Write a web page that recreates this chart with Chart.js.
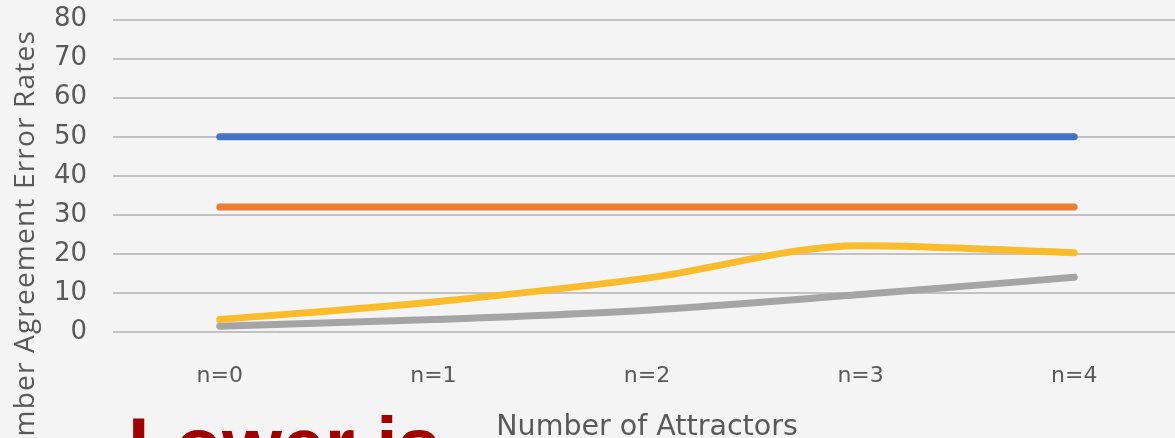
<!DOCTYPE html>
<html>
<head>
<meta charset="utf-8">
<script src="https://cdn.jsdelivr.net/npm/chart.js@4/dist/chart.umd.min.js"></script>
<style>
  html, body { margin: 0; padding: 0; background: #f4f4f4; overflow: hidden; width: 1175px; height: 438px; }
  #wrap { position: absolute; left: 0; top: -22px; width: 1181px; height: 482px; }
  #yTitle {
    position: absolute; left: 9px; top: 630px; width: 600px;
    transform-origin: left top; transform: rotate(-90deg);
    font-family: "Open Sans", sans-serif; font-size: 28px; line-height: 1;
    letter-spacing: 1.2px;
    color: #595959; text-align: right; white-space: nowrap;
  }
  #note {
    position: absolute; left: 128px; top: 407px;
    font-family: "Liberation Sans", Arial, sans-serif; font-weight: bold;
    font-size: 77px; line-height: 1; color: #a00000; white-space: nowrap;
  }
</style>
</head>
<body>
<div id="wrap"><canvas id="c" width="1181" height="482"></canvas></div>
<div id="yTitle">Number Agreement Error Rates</div>
<div id="note">Lower is</div>
<script>
// Error rates by number of attractors
const categories = ['n=0', 'n=1', 'n=2', 'n=3', 'n=4'];
const seriesBlue   = [50, 50, 50, 50, 50];
const seriesOrange = [32, 32, 32, 32, 32];
const seriesGray   = [1.5, 3.2, 5.6, 9.6, 14.0];
const seriesYellow = [3.2, 7.7, 13.8, 22.1, 20.3];
const yTicks = [0, 10, 20, 30, 40, 50, 60, 70, 80];

const tickColor = '#595959';

function line(data, color, order) {
  return {
    data: data,
    borderColor: color,
    backgroundColor: color,
    borderWidth: 7,
    pointRadius: 0,
    cubicInterpolationMode: 'monotone',
    borderCapStyle: 'round',
    borderJoinStyle: 'round',
    fill: false,
    order: order
  };
}

new Chart(document.getElementById('c'), {
  type: 'line',
  data: {
    labels: categories,
    datasets: [
      line(seriesBlue, '#4472c4', 4),
      line(seriesOrange, '#ed7d31', 3),
      line(seriesGray, '#a5a5a5', 2),
      line(seriesYellow, '#fbbc2c', 1)
    ]
  },
  options: {
    responsive: false,
    devicePixelRatio: 1,
    animation: false,
    layout: { padding: 0 },
    plugins: { legend: { display: false }, tooltip: { enabled: false } },
    scales: {
      x: {
        type: 'category',
        offset: true,
        grid: { display: false, drawTicks: false },
        border: { display: false },
        ticks: {
          color: tickColor,
          padding: 31,
          font: { family: 'DejaVu Sans', size: 22 }
        },
        title: {
          display: true,
          text: 'Number of Attractors',
          color: tickColor,
          font: { family: 'DejaVu Sans', size: 28.5 },
          padding: { top: 0, bottom: 15 }
        },
        afterFit: s => { s.height = 128; }
      },
      y: {
        min: 0,
        max: 80,
        afterBuildTicks: s => { s.ticks = yTicks.map(v => ({ value: v })); },
        grid: { color: '#c2c2c2', lineWidth: 2, drawTicks: false },
        border: { display: false },
        ticks: {
          color: tickColor,
          padding: 26,
          font: { family: 'DejaVu Sans', size: 26 }
        },
        afterFit: s => { s.width = 113; }
      }
    }
  }
});
</script>
</body>
</html>
